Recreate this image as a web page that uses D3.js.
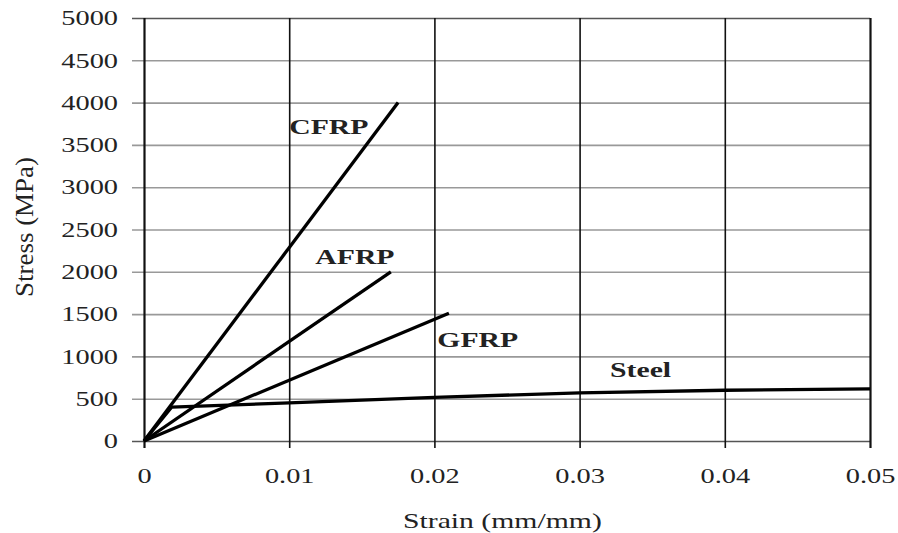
<!DOCTYPE html>
<html>
<head>
<meta charset="utf-8">
<script src="https://cdn.jsdelivr.net/npm/d3@7"></script>
<style>
  body { margin: 0; background: #fff; }
  text { font-family: "Liberation Serif", "Times New Roman", serif; fill: #222; }
</style>
</head>
<body>
<svg id="chart"></svg>
<script>
(function() {

  // values
  const xTicks = [0, 0.01, 0.02, 0.03, 0.04, 0.05];
  const yTicks = [0, 500, 1000, 1500, 2000, 2500, 3000, 3500, 4000, 4500, 5000];

  const cfrp = [[0, 0], [0.0175, 4000]];
  const afrp = [[0, 0], [0.017, 2000]];
  const gfrp = [[0, 0], [0.021, 1510]];
  const steel = [[0, 0], [0.0019, 400], [0.01, 450], [0.02, 515], [0.03, 570], [0.04, 600], [0.05, 615]];

  const seriesLabels = [
    { name: 'CFRP', x: 0.0100, y: 3630 },
    { name: 'AFRP', x: 0.0118, y: 2090 },
    { name: 'GFRP', x: 0.0202, y: 1110 },
    { name: 'Steel', x: 0.0321, y: 760 }
  ];

  const width = 898;
  const height = 533;
  const margin = { left: 144, right: 28, top: 18, bottom: 92 };
  const stretch = 1.35;   // the source picture is stretched sideways

  const svg = d3.select('#chart')
    .attr('width', width)
    .attr('height', height);

  const x = d3.scaleLinear().domain([0, 0.05]).range([margin.left, width - margin.right]);
  const y = d3.scaleLinear().domain([0, 5000]).range([height - margin.bottom, margin.top]);

  // widen a text by setting its length
  const widen = function(sel) {
    sel.each(function() {
      const w = this.getComputedTextLength();
      d3.select(this).attr('textLength', w * stretch).attr('lengthAdjust', 'spacingAndGlyphs');
    });
  };

  // horizontal grid (grey) with ticks sticking out left
  svg.append('g')
    .attr('class', 'y-grid')
    .attr('transform', 'translate(' + x(0.05) + ',0)')
    .call(d3.axisLeft(y).tickValues(yTicks).tickSize(x(0.05) - margin.left + 12).tickFormat(''))
    .call(g => g.select('.domain').remove())
    .selectAll('line')
    .attr('stroke', d => (d === 0 || d === 5000) ? '#555' : '#999')
    .attr('stroke-width', 1.6);

  // vertical grid (black) with ticks below
  svg.append('g')
    .attr('class', 'x-grid')
    .attr('transform', 'translate(0,' + margin.top + ')')
    .call(d3.axisBottom(x).tickValues(xTicks).tickSize(y(0) - margin.top + 7).tickFormat(''))
    .call(g => g.select('.domain').remove())
    .selectAll('line')
    .attr('stroke', '#111')
    .attr('stroke-width', d => (d === 0 || d === 0.05) ? 2.2 : 1.6);

  // y tick labels
  const yAxis = svg.append('g')
    .attr('transform', 'translate(' + (margin.left - 26) + ',0)')
    .call(d3.axisLeft(y).tickValues(yTicks).tickSize(0).tickPadding(0).tickFormat(d3.format('d')))
    .call(g => g.select('.domain').remove());
  yAxis.selectAll('text')
    .style('font-size', '21px')
    .attr('fill', '#222')
    .call(widen);

  // x tick labels
  const xAxis = svg.append('g')
    .attr('transform', 'translate(0,' + (y(0) + 27) + ')')
    .call(d3.axisBottom(x).tickValues(xTicks).tickSize(0).tickPadding(0)
      .tickFormat(d => d === 0 ? '0' : d3.format('.2f')(d)))
    .call(g => g.select('.domain').remove());
  xAxis.selectAll('text')
    .style('font-size', '21px')
    .attr('fill', '#222')
    .call(widen);

  // curves
  const line = d3.line().x(d => x(d[0])).y(d => y(d[1]));
  const plot = svg.append('g').attr('class', 'curves');
  [cfrp, afrp, gfrp, steel].forEach(function(s) {
    plot.append('path')
      .datum(s)
      .attr('d', line)
      .attr('fill', 'none')
      .attr('stroke', '#000')
      .attr('stroke-width', 3.3)
      .attr('stroke-linejoin', 'round');
  });

  // curve names
  svg.append('g').selectAll('text')
    .data(seriesLabels)
    .enter()
    .append('text')
    .attr('x', d => x(d.x))
    .attr('y', d => y(d.y))
    .style('font-size', '22px')
    .style('font-weight', 'bold')
    .attr('fill', '#111')
    .text(d => d.name)
    .call(widen);

  // axis titles
  svg.append('text')
    .attr('transform', 'translate(33,' + 227 + ') rotate(-90)')
    .attr('text-anchor', 'middle')
    .style('font-size', '25px')
    .attr('fill', '#222')
    .attr('textLength', 140)
    .attr('lengthAdjust', 'spacingAndGlyphs')
    .text('Stress (MPa)');

  svg.append('text')
    .attr('x', 403)
    .attr('y', 528)
    .style('font-size', '22px')
    .attr('fill', '#222')
    .text('Strain (mm/mm)')
    .call(widen);

})();
</script>
</body>
</html>
